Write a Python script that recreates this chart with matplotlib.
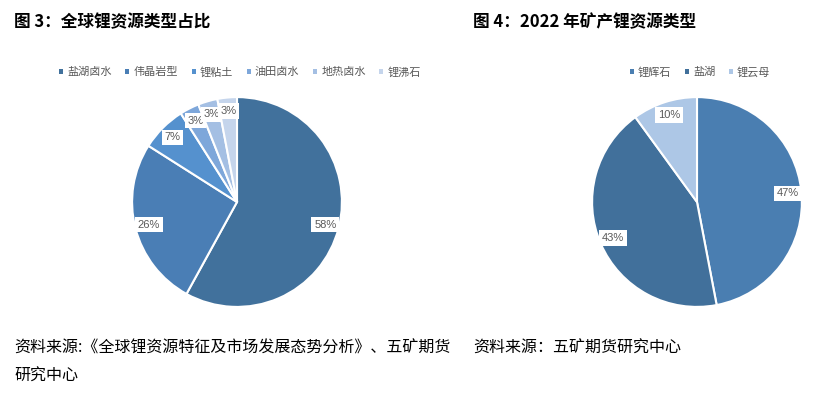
import matplotlib
matplotlib.use("Agg")
import numpy as np
import matplotlib.pyplot as plt
from matplotlib.patches import Patch

plt.rcParams['font.family'] = ['Noto Sans CJK SC', 'DejaVu Sans']

# figure 3: global lithium resource types
types1 = ['盐湖卤水', '伟晶岩型', '锂粘土', '油田卤水', '地热卤水', '锂沸石']
share1 = [58, 26, 7, 3, 3, 3]
colors1 = ['#41719C', '#4A7EB5', '#5591CE', '#7EA7DA', '#A4BFE3', '#C5D5EC']

# figure 4: 2022 mined lithium resource types
types2 = ['锂辉石', '盐湖', '锂云母']
share2 = [47, 43, 10]
colors2 = ['#4A7EB1', '#41709B', '#ADC7E6']

W, H = 835, 398
fig = plt.figure(figsize=(W / 100, H / 100), dpi=100)


def draw_pie(cx, cy, r, values, colors, labels, legend_x):
    ax = fig.add_axes([(cx - r) / W, (H - cy - r) / H, 2 * r / W, 2 * r / H])
    ax.pie(values, colors=colors, startangle=90, counterclock=False,
           wedgeprops=dict(edgecolor='white', linewidth=1.5))
    total = sum(values)
    start = 90.0
    for v in values:
        mid = np.deg2rad(start - v / total * 180)
        start -= v / total * 360
        ax.text(0.87 * np.cos(mid), 0.87 * np.sin(mid), f'{v}%', ha='center', va='center',
                fontsize=8, color='#595959', family=['Liberation Sans'],
                bbox=dict(boxstyle='square,pad=0.25', fc='white', ec='none'))
    ax.set_xlim(-1.02, 1.02)
    ax.set_ylim(-1.02, 1.02)
    ax.set_aspect('equal')
    ax.axis('off')
    handles = [Patch(facecolor=c, edgecolor='none') for c in colors]
    fig.legend(handles, labels, loc='center', bbox_to_anchor=(legend_x / W, 1 - 72 / H),
               ncol=len(labels), frameon=False, fontsize=8, handlelength=0.35,
               handleheight=0.35, handletextpad=0.4, columnspacing=1.2,
               labelcolor='#595959')


draw_pie(237, 202, 107, share1, colors1, types1, 240)
draw_pie(697, 202, 107, share2, colors2, types2, 700)

fig.text(14 / W, 1 - 22 / H, '图 3：全球锂资源类型占比', fontsize=12, fontweight='bold',
         ha='left', va='center')
fig.text(473 / W, 1 - 22 / H, '图 4：2022 年矿产锂资源类型', fontsize=12, fontweight='bold',
         ha='left', va='center')

fig.text(14 / W, 1 - 348 / H, '资料来源:《全球锂资源特征及市场发展态势分析》、五矿期货',
         fontsize=11.5, ha='left', va='center')
fig.text(14 / W, 1 - 376 / H, '研究中心', fontsize=11.5, ha='left', va='center')
fig.text(473 / W, 1 - 348 / H, '资料来源：五矿期货研究中心', fontsize=11.5, ha='left', va='center')

fig.savefig('out.png', dpi=100)
